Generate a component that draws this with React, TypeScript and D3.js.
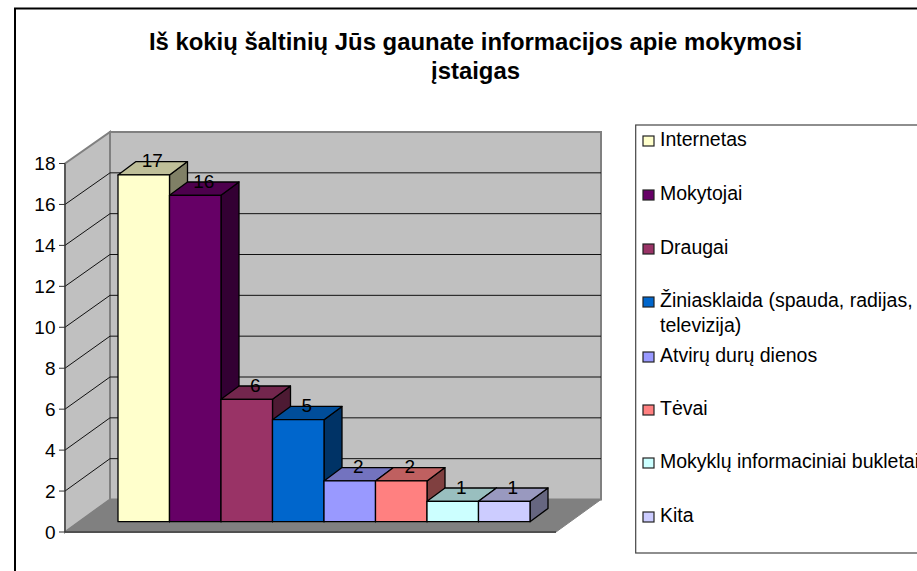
import React from "react";
import * as d3 from "d3";

const categories = ["Internetas", "Mokytojai", "Draugai", "Žiniasklaida (spauda, radijas, televizija)", "Atvirų durų dienos", "Tėvai", "Mokyklų informaciniai bukletai", "Kita"];
const values = [17, 16, 6, 5, 2, 2, 1, 1];
const colors = ["#ffffcc", "#660066", "#993366", "#0066cc", "#9999ff", "#ff8080", "#ccffff", "#ccccff"];
const yTicks = [0, 2, 4, 6, 8, 10, 12, 14, 16, 18];
const titleLines = ["Iš kokių šaltinių Jūs gaunate informacijos apie mokymosi", "įstaigas"];
const legendLines = [["Internetas"], ["Mokytojai"], ["Draugai"], ["Žiniasklaida (spauda, radijas,", "televizija)"], ["Atvirų durų dienos"], ["Tėvai"], ["Mokyklų informaciniai bukletai"], ["Kita"]];
const legendBase = [146, 200, 254, 307, 362, 415, 468, 522];

const FONT = "'Liberation Sans', Arial, sans-serif";
const frontY = d3.scaleLinear().domain([0, 18]).range([532, 163.5]);
const backY = d3.scaleLinear().domain([0, 18]).range([499.5, 132]);
const barY = d3.scaleLinear().domain([0, 18]).range([521.7, 154.5]);
const barX = d3.scaleBand<number>().domain(d3.range(values.length)).range([118, 530]).padding(0);
const DX = 18, DY = 13.3;
const L = 65, BL = 110, BR = 601, FR = 556;
const poly = (p: number[][]) => p.map(q => q.join(",")).join(" ");
const shade = (c: string, k: number) => { const r = d3.rgb(c); return d3.rgb(r.r * k, r.g * k, r.b * k).formatHex(); };

export default function App() {
  const order = d3.range(values.length);
  return (
    <svg width={917} height={571} style={{ position: "fixed", left: 0, top: 0, display: "block", background: "#fff" }} fontFamily={FONT}>
      <rect x={15} y={8.5} width={1000} height={700} fill="#fff" stroke="#000" strokeWidth={2} />
      {titleLines.map((t, i) => (
        <text key={t} x={475.5} y={50 + i * 29} textAnchor="middle" fontSize={23.9} fontWeight="bold" fill="#000">{t}</text>
      ))}

      {/* walls and floor */}
      <polygon points={poly([[BL, backY(0)], [BR, backY(0)], [BR, backY(18)], [BL, backY(18)]])} fill="#c0c0c0" stroke="#808080" strokeWidth={2} />
      <polygon points={poly([[L, frontY(0)], [BL, backY(0)], [BL, backY(18)], [L, frontY(18)]])} fill="#c0c0c0" stroke="#808080" strokeWidth={2} />
      <polygon points={poly([[L, frontY(0)], [BL, backY(0)], [BR, backY(0)], [FR, frontY(0)]])} fill="#808080" stroke="#808080" />
      <line x1={L} x2={FR} y1={frontY(0)} y2={frontY(0)} stroke="#505050" strokeWidth={2} />

      {/* gridlines */}
      {yTicks.slice(1, -1).map(t => (
        <g key={t} stroke="#111" strokeWidth={1} fill="none">
          <polyline points={poly([[L, frontY(t)], [BL, backY(t)], [BR, backY(t)]])} />
        </g>
      ))}
      <line x1={L} x2={L} y1={frontY(0)} y2={frontY(18)} stroke="#333" strokeWidth={1} />

      {/* y axis */}
      {yTicks.map(t => (
        <g key={t}>
          <line x1={59} x2={L} y1={frontY(t)} y2={frontY(t)} stroke="#333" strokeWidth={1} />
          <text x={55.5} y={frontY(t) + 6.5} textAnchor="end" fontSize={19} fill="#000">{t}</text>
        </g>
      ))}

      {/* bars */}
      {order.map(i => {
        const x0 = barX(i)!, x1 = x0 + barX.bandwidth(), yt = barY(values[i]), yb = barY(0);
        return (
          <g key={i} stroke="#000" strokeWidth={1.3} strokeLinejoin="round">
            <polygon points={poly([[x1, yt], [x1 + DX, yt - DY], [x1 + DX, yb - DY], [x1, yb]])} fill={shade(colors[i], 0.5)} />
            <polygon points={poly([[x0, yt], [x0 + DX, yt - DY], [x1 + DX, yt - DY], [x1, yt]])} fill={shade(colors[i], 0.75)} />
            <rect x={x0} y={yt} width={x1 - x0} height={yb - yt} fill={colors[i]} />
          </g>
        );
      })}
      {order.map(i => (
        <text key={i} x={barX(i)! + barX.bandwidth() / 2 + 8.5} y={barY(values[i]) - 7.5} textAnchor="middle" fontSize={19} fill="#000">{values[i]}</text>
      ))}

      {/* legend */}
      <rect x={635.7} y={125} width={400} height={428} fill="#fff" stroke="#444" strokeWidth={1.2} />
      {legendLines.map((lines, i) => (
        <g key={categories[i]}>
          <rect x={643} y={legendBase[i] - 10} width={11} height={10} fill={colors[i]} stroke="#222" strokeWidth={1.2} />
          {lines.map((l, j) => (
            <text key={l} x={660} y={legendBase[i] + j * 25} fontSize={19.5} fill="#000">{l}</text>
          ))}
        </g>
      ))}
    </svg>
  );
}
